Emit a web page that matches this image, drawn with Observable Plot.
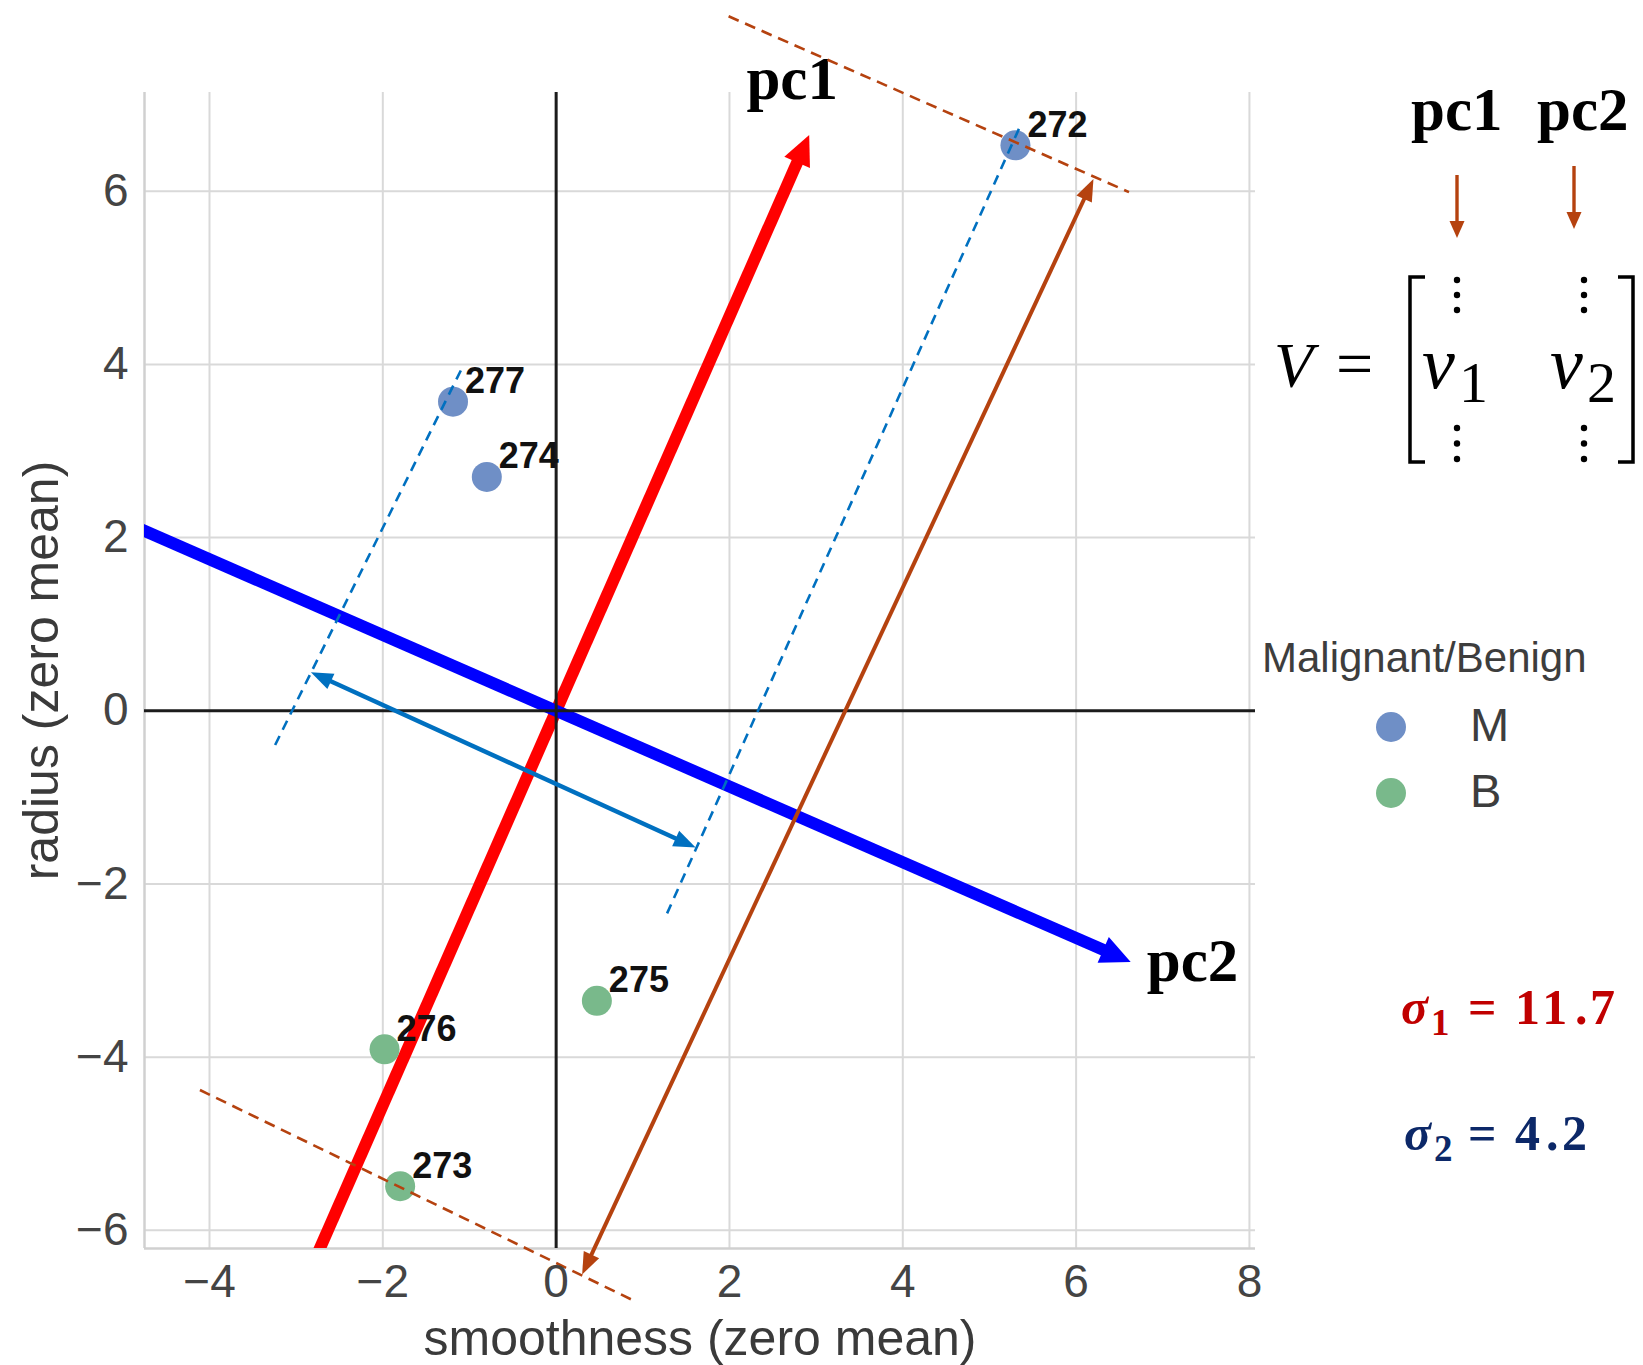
<!DOCTYPE html>
<html>
<head>
<meta charset="utf-8">
<script src="https://cdn.jsdelivr.net/npm/d3@7"></script>
<script src="https://cdn.jsdelivr.net/npm/@observablehq/plot@0.6"></script>
<style>
html, body { margin: 0; padding: 0; background: #fff; overflow: hidden; }
#wrap { position: relative; width: 1643px; height: 1365px; overflow: hidden; background: #fff; }
#wrap svg { position: absolute; left: 0; top: 0; }
</style>
</head>
<body>
<div id="wrap"></div>
<script>
// ---------------- data ----------------
const pointId = ["272", "273", "274", "275", "276", "277"];
const pointX = [5.30, -1.80, -0.80, 0.47, -1.98, -1.19];
const pointY = [6.53, -5.49, 2.70, -3.35, -3.91, 3.57];
const pointClass = ["M", "B", "M", "B", "B", "M"];

const classNames = ["M", "B"];
const classColors = ["#6f8fc6", "#79b98b"];
const legendTitle = "Malignant/Benign";

const xTicks = [-4, -2, 0, 2, 4, 6, 8];
const yTicks = [-6, -4, -2, 0, 2, 4, 6];
const xLabel = "smoothness (zero mean)";
const yLabel = "radius (zero mean)";

// principal component directions (arrow tips, data units)
const pcNames = ["pc1", "pc2"];
const pcTipX = [2.92, 6.63];
const pcTipY = [6.65, -2.90];
const pcColors = ["#ff0000", "#0000ff"];

// singular values
const sigmaSub = ["1", "2"];
const sigmaInt = ["11", "4"];
const sigmaDec = ["7", "2"];
const sigmaColors = ["#c00000", "#0c2868"];

// projection guide lines (dashed)
const guideX1 = [1.99, -4.11, -1.10, 5.34];
const guideY1 = [8.02, -4.38, 3.93, 6.72];
const guideX2 = [6.61, 0.87, -3.26, 1.28];
const guideY2 = [5.99, -6.80, -0.43, -2.34];
const guideKind = ["brown", "brown", "blue", "blue"];

// spread arrows (double headed)
const spanX1 = [0.30, -2.83];
const spanY1 = [-6.51, 0.445];
const spanX2 = [6.20, 1.61];
const spanY2 = [6.14, -1.58];
const spanKind = ["brown", "blue"];

const annotColors = {brown: "#b5420f", blue: "#0070c0"};

// ---------------- layout ----------------
const W = 1643, H = 1365;
const frame = {left: 144, right: 1255, top: 92, bottom: 1248};
const xDomain = [-4.75, 8.07];
const yDomain = [-6.21, 7.14];
const ppu = (frame.right - frame.left) / (xDomain[1] - xDomain[0]);

const points = pointId.map((id, i) => ({id, x: pointX[i], y: pointY[i], cls: pointClass[i]}));
const pcs = pcNames.map((name, i) => ({name, x: pcTipX[i], y: pcTipY[i], color: pcColors[i]}));
const guides = guideX1.map((_, i) => ({x1: guideX1[i], y1: guideY1[i], x2: guideX2[i], y2: guideY2[i], kind: guideKind[i]}));
const spans = spanX1.map((_, i) => ({x1: spanX1[i], y1: spanY1[i], x2: spanX2[i], y2: spanY2[i], kind: spanKind[i]}));

const angle = (dx, dy) => Math.atan2(dx, dy) * 180 / Math.PI;
function headSymbol(len, w) {
  return {draw(ctx) { ctx.moveTo(0, 0); ctx.lineTo(-w / 2, len); ctx.lineTo(w / 2, len); ctx.closePath(); }};
}
const thickHead = headSymbol(30, 28);
const thinHead = headSymbol(22, 17);

// shorten a segment end (toward start) by px pixels
function pull(x1, y1, x2, y2, px) {
  const L = Math.hypot(x2 - x1, y2 - y1);
  const k = (px / ppu) / L;
  return [x2 - (x2 - x1) * k, y2 - (y2 - y1) * k];
}

const fmt = d3.format("");
const serif = "'Liberation Serif', 'Times New Roman', serif";
const sans = "'Liberation Sans', Arial, sans-serif";

const marks = [
  Plot.ruleX(xTicks, {stroke: "#d9d9d9", strokeWidth: 2}),
  Plot.ruleY(yTicks, {stroke: "#d9d9d9", strokeWidth: 2}),
  Plot.ruleX([xDomain[0]], {stroke: "#d0d0d0", strokeWidth: 2.5}),
  Plot.ruleY([yDomain[0]], {stroke: "#d0d0d0", strokeWidth: 2.5})
];

// thick principal component arrows
pcs.forEach(d => {
  marks.push(Plot.link([d], {
    x1: p => -p.x, y1: p => -p.y,
    x2: p => pull(-p.x, -p.y, p.x, p.y, 22)[0],
    y2: p => pull(-p.x, -p.y, p.x, p.y, 22)[1],
    stroke: d.color, strokeWidth: 12, clip: true
  }));
  marks.push(Plot.dot([d], {
    x: "x", y: "y", r: 5, symbol: thickHead, fill: d.color, stroke: "none",
    rotate: p => angle(p.x, p.y)
  }));
});

marks.push(
  Plot.ruleX([0], {stroke: "#1c1c1c", strokeWidth: 3}),
  Plot.ruleY([0], {stroke: "#1c1c1c", strokeWidth: 3}),
  Plot.dot(points, {x: "x", y: "y", fill: "cls", r: 15}),
  Plot.text(points, {
    x: "x", y: "y", text: "id", dx: 12, dy: -20, textAnchor: "start",
    fontSize: 36, fontWeight: "bold", fill: "#111", fontFamily: sans, ariaLabel: "pointlabels"
  }),
  Plot.text([pcs[0]], {x: "x", y: "y", text: "name", dx: -17, dy: -55, fontFamily: serif, fontWeight: "bold", fontSize: 61, fill: "#000"}),
  Plot.text([pcs[1]], {x: "x", y: "y", text: "name", dx: 16, dy: 0, textAnchor: "start", fontFamily: serif, fontWeight: "bold", fontSize: 61, fill: "#000"})
);

// dashed projection guides
["brown", "blue"].forEach(kind => {
  marks.push(Plot.link(guides.filter(g => g.kind === kind), {
    x1: "x1", y1: "y1", x2: "x2", y2: "y2",
    stroke: annotColors[kind], strokeWidth: 2.6, strokeDasharray: kind === "brown" ? "11,7" : "10,7"
  }));
});

// double-headed spread arrows
spans.forEach(s => {
  const c = annotColors[s.kind];
  const w = s.kind === "brown" ? 4 : 4.5;
  marks.push(Plot.link([s], {
    x1: d => pull(d.x2, d.y2, d.x1, d.y1, 14)[0], y1: d => pull(d.x2, d.y2, d.x1, d.y1, 14)[1],
    x2: d => pull(d.x1, d.y1, d.x2, d.y2, 14)[0], y2: d => pull(d.x1, d.y1, d.x2, d.y2, 14)[1],
    stroke: c, strokeWidth: w
  }));
  const heads = [
    {x: s.x2, y: s.y2, rot: angle(s.x2 - s.x1, s.y2 - s.y1)},
    {x: s.x1, y: s.y1, rot: angle(s.x1 - s.x2, s.y1 - s.y2)}
  ];
  marks.push(Plot.dot(heads, {x: "x", y: "y", r: 5, symbol: thinHead, fill: c, stroke: "none", rotate: "rot"}));
});

// tick labels and axis labels
marks.push(
  Plot.text(xTicks, {x: d => d, text: d => fmt(d), frameAnchor: "bottom", lineAnchor: "top", dy: 16, fontSize: 46, fill: "#444", fontFamily: sans}),
  Plot.text(yTicks, {y: d => d, text: d => fmt(d), frameAnchor: "left", textAnchor: "end", lineAnchor: "middle", dx: -16, fontSize: 46, fill: "#444", fontFamily: sans}),
  Plot.text([xLabel], {text: d => d, frameAnchor: "bottom", textAnchor: "middle", lineAnchor: "middle", dy: 90, fontSize: 50, fill: "#3a3a3a", fontFamily: sans}),
  Plot.text([yLabel], {text: d => d, frameAnchor: "left", textAnchor: "middle", lineAnchor: "middle", rotate: -90, dx: -103, fontSize: 50, fill: "#3a3a3a", fontFamily: sans})
);

const chart = Plot.plot({
  width: W, height: H,
  marginLeft: frame.left, marginRight: W - frame.right,
  marginTop: frame.top, marginBottom: H - frame.bottom,
  x: {domain: xDomain, axis: null},
  y: {domain: yDomain, axis: null},
  color: {domain: classNames, range: classColors},
  style: {fontFamily: sans, background: "#fff", overflow: "visible"},
  marks
});
d3.select(chart).selectAll("g[aria-label='pointlabels'] text").attr("letter-spacing", "-1.2px");
document.getElementById("wrap").appendChild(chart);

// ---------------- right-side annotations ----------------
const ov = d3.create("svg").attr("width", W).attr("height", H).style("overflow", "visible");
const brown = annotColors.brown;

// column headers and down arrows
const headerX = [1411, 1537];
const arrowX = [1457, 1574];
const arrowTop = [175, 166];
pcNames.forEach((name, i) => {
  ov.append("text").attr("x", headerX[i]).attr("y", 130).text(name)
    .attr("font-family", serif).attr("font-weight", "bold").attr("font-size", 61).attr("fill", "#000");
  const x = arrowX[i], y0 = arrowTop[i], y1 = y0 + 63;
  ov.append("line").attr("x1", x).attr("x2", x).attr("y1", y0).attr("y2", y1 - 12)
    .attr("stroke", brown).attr("stroke-width", 3.4);
  ov.append("path").attr("d", `M${x},${y1}L${x - 7.5},${y1 - 17}L${x + 7.5},${y1 - 17}Z`).attr("fill", brown);
});

// matrix V = [v1 v2]
const mt = (x, y, s, size, italic) => ov.append("text").attr("x", x).attr("y", y).text(s)
  .attr("font-family", serif).attr("font-size", size).attr("font-style", italic ? "italic" : "normal").attr("fill", "#000");
mt(1274, 387, "V", 64, true);
mt(1336, 386, "=", 66, false);
ov.append("path").attr("d", "M1425,277H1410V462H1425").attr("fill", "none").attr("stroke", "#000").attr("stroke-width", 3.5);
ov.append("path").attr("d", "M1618,277H1633V462H1618").attr("fill", "none").attr("stroke", "#000").attr("stroke-width", 3.5);
const colX = [1457, 1584];
const vX = [1422, 1550];
pcNames.forEach((_, i) => {
  mt(vX[i], 388, "v", 74, true);
  mt(vX[i] + 37, 402, String(i + 1), 58, false);
  [280, 295, 310, 428, 443.5, 459].forEach(y => ov.append("circle").attr("cx", colX[i]).attr("cy", y).attr("r", 3.2).attr("fill", "#000"));
});

// sigma values
const sigmaBase = [1024, 1150];
const sigmaX = [1401, 1404];
const intX = [1515, 1515];
const dotX = [1575, 1546];
const decX = [1590, 1562];
sigmaInt.forEach((v, i) => {
  const t = ov.append("text").attr("y", sigmaBase[i]).attr("font-family", serif).attr("font-weight", "bold")
    .attr("font-size", 50).attr("fill", sigmaColors[i]);
  t.append("tspan").attr("x", sigmaX[i]).attr("font-style", "italic").text("σ");
  t.append("tspan").attr("x", sigmaX[i] + 30).attr("dy", 11).attr("font-size", 37).text(sigmaSub[i]);
  t.append("tspan").attr("x", 1468).attr("dy", -11).text("=");
  t.append("tspan").attr("x", intX[i]).attr("letter-spacing", 5).text(v);
  t.append("tspan").attr("x", dotX[i]).text(".");
  t.append("tspan").attr("x", decX[i]).text(sigmaDec[i]);
});

// legend
ov.append("text").attr("x", 1262).attr("y", 672).text(legendTitle)
  .attr("font-family", sans).attr("font-size", 42).attr("fill", "#3d3d3d");
const legendY = [727, 793];
classNames.forEach((c, i) => {
  ov.append("circle").attr("cx", 1391).attr("cy", legendY[i]).attr("r", 15).attr("fill", classColors[i]);
  ov.append("text").attr("x", 1470).attr("y", legendY[i] + 14).text(c)
    .attr("font-family", sans).attr("font-size", 47).attr("fill", "#3d3d3d");
});

document.getElementById("wrap").appendChild(ov.node());
</script>
</body>
</html>
